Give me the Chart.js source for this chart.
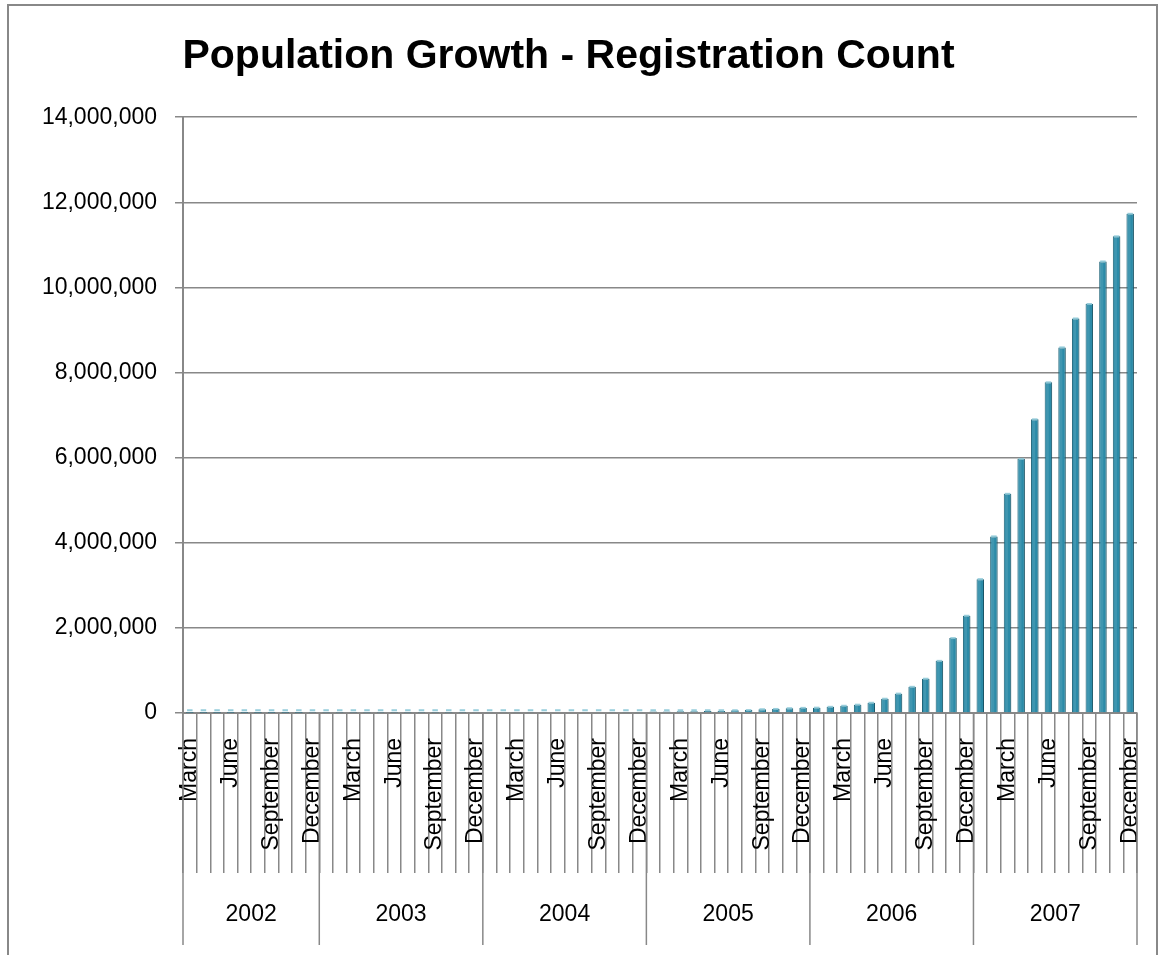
<!DOCTYPE html>
<html>
<head>
<meta charset="utf-8">
<title>Population Growth - Registration Count</title>
<script src="https://cdn.jsdelivr.net/npm/chart.js@4"></script>
<style>
  html, body { margin: 0; padding: 0; background: #fff; }
  #wrap { position: relative; width: 1159px; height: 955px; }
</style>
</head>
<body>
<div id="wrap"><canvas id="growthChart"></canvas></div>
<script>
// Registration counts, one array per year
const years = ['2002', '2003', '2004', '2005', '2006', '2007'];
const monthNames = ['January', 'February', 'March', 'April', 'May', 'June',
    'July', 'August', 'September', 'October', 'November', 'December'];
const shownMonths = ['March', 'June', 'September', 'December'];

const reg2002 = [1000, 1200, 1400, 1600, 1800, 2000, 2300, 2600, 2900, 3200];
const reg2003 = [3600, 4000, 4500, 5000, 5500, 6000, 6500, 7000, 7500, 8000, 8500, 9000];
const reg2004 = [10000, 11000, 12000, 13000, 14000, 15000, 16000, 17000, 19000, 21000, 23000, 25000];
const reg2005 = [35000, 38000, 40000, 42000, 45000, 48000, 62000, 68000, 88000, 95000, 112000, 120000];
const reg2006 = [125000, 145000, 170000, 195000, 240000, 335000, 455000, 615000, 805000, 1225000, 1760000, 2285000];
const reg2007 = [3145000, 4150000, 5150000, 5970000, 6900000, 7770000, 8590000, 9270000, 9610000, 10610000, 11200000, 11730000];

const yTicks = [0, 2000000, 4000000, 6000000, 8000000, 10000000, 12000000, 14000000];

const perYear = [reg2002, reg2003, reg2004, reg2005, reg2006, reg2007];
const categories = [];
const values = [];
perYear.forEach(arr => {
    const names = monthNames.slice(12 - arr.length);
    names.forEach((m, i) => {
        categories.push(m);
        values.push(arr[i]);
    });
});

const AXIS_GREY = '#888888';
const FONT = 'Liberation Sans';

// outer frame, year row under the month labels
const frameAndYears = {
    id: 'frameAndYears',
    beforeDraw(chart) {
        const ctx = chart.ctx;
        ctx.save();
        ctx.strokeStyle = AXIS_GREY;
        ctx.lineWidth = 2;
        ctx.beginPath();
        ctx.moveTo(8, 955);
        ctx.lineTo(8, 5);
        ctx.lineTo(1157, 5);
        ctx.lineTo(1157, 955);
        ctx.stroke();
        ctx.restore();
    },
    afterDraw(chart) {
        const ctx = chart.ctx;
        const x = chart.scales.x;
        const area = chart.chartArea;
        const step = x.width / categories.length;
        ctx.save();
        ctx.strokeStyle = AXIS_GREY;
        ctx.lineWidth = 1.5;
        ctx.fillStyle = '#000';
        ctx.font = '23px ' + FONT;
        ctx.textAlign = 'center';
        ctx.textBaseline = 'middle';
        let start = 0;
        const edges = [];
        perYear.forEach((arr, k) => {
            const left = x.getPixelForValue(start) - step / 2;
            const right = x.getPixelForValue(start + arr.length - 1) + step / 2;
            edges.push(left);
            if (k === perYear.length - 1) edges.push(right);
            ctx.fillText(years[k], (left + right) / 2, area.bottom + 202);
            start += arr.length;
        });
        edges.forEach(px => {
            ctx.beginPath();
            ctx.moveTo(px, area.bottom);
            ctx.lineTo(px, area.bottom + 232);
            ctx.stroke();
        });
        ctx.restore();
    }
};

// soft shadow to the right of the bars and a light cap on top
const barLook = {
    id: 'barLook',
    beforeDatasetsDraw(chart) {
        const ctx = chart.ctx;
        ctx.save();
        ctx.shadowColor = 'rgba(0, 0, 0, 0.18)';
        ctx.shadowOffsetX = 3;
        ctx.shadowOffsetY = 0;
        ctx.shadowBlur = 4;
    },
    afterDatasetsDraw(chart) {
        const ctx = chart.ctx;
        ctx.restore();
        ctx.save();
        const meta = chart.getDatasetMeta(0);
        meta.data.forEach(bar => {
            const w = bar.width;
            ctx.fillStyle = 'rgba(140, 200, 215, 0.9)';
            ctx.fillRect(bar.x - w / 2 + 1, Math.min(bar.y, bar.base - 2) - 1, w - 2, 2);
            ctx.fillStyle = 'rgba(255, 255, 255, 0.10)';
            ctx.fillRect(bar.x - w / 2 + 1.5, bar.y + 1, w * 0.35, Math.max(0, bar.base - bar.y - 1));
        });
        ctx.restore();
    }
};

const chart = new Chart(document.getElementById('growthChart'), {
    type: 'bar',
    data: {
        labels: categories,
        datasets: [{
            label: 'Registrations',
            data: values,
            backgroundColor: '#2b8ba8',
            borderColor: '#1e6479',
            borderWidth: 1,
            borderSkipped: 'bottom',
            barPercentage: 0.55,
            categoryPercentage: 1.0
        }]
    },
    options: {
        responsive: true,
        maintainAspectRatio: false,
        animation: false,
        layout: {
            padding: { top: 0, right: 22, bottom: 10, left: 0 }
        },
        plugins: {
            legend: { display: false },
            tooltip: { enabled: false },
            title: {
                display: true,
                text: 'Population Growth - Registration Count',
                color: '#000',
                font: { family: FONT, size: 41, weight: 'bold' },
                padding: { top: 32, bottom: 36 }
            }
        },
        scales: {
            x: {
                afterFit: scale => { scale.height = 232; },
                grid: {
                    offset: true,
                    drawOnChartArea: false,
                    drawTicks: true,
                    tickLength: 160,
                    color: AXIS_GREY,
                    lineWidth: 1.5
                },
                border: { color: AXIS_GREY, width: 2 },
                ticks: {
                    autoSkip: false,
                    minRotation: 90,
                    maxRotation: 90,
                    padding: -135,
                    color: '#000',
                    font: { family: FONT, size: 23 },
                    callback: function (value) {
                        const name = this.getLabelForValue(value);
                        return shownMonths.includes(name) ? name : '';
                    }
                }
            },
            y: {
                min: 0,
                max: 14000000,
                afterFit: scale => { scale.width = 183; },
                afterBuildTicks: scale => { scale.ticks = yTicks.map(v => ({ value: v })); },
                grid: {
                    color: AXIS_GREY,
                    lineWidth: 1.5,
                    tickLength: 8
                },
                border: { color: AXIS_GREY, width: 2 },
                ticks: {
                    padding: 18,
                    color: '#000',
                    font: { family: FONT, size: 23 },
                    callback: value => value.toLocaleString('en-US')
                }
            }
        }
    },
    plugins: [frameAndYears, barLook]
});
</script>
</body>
</html>
